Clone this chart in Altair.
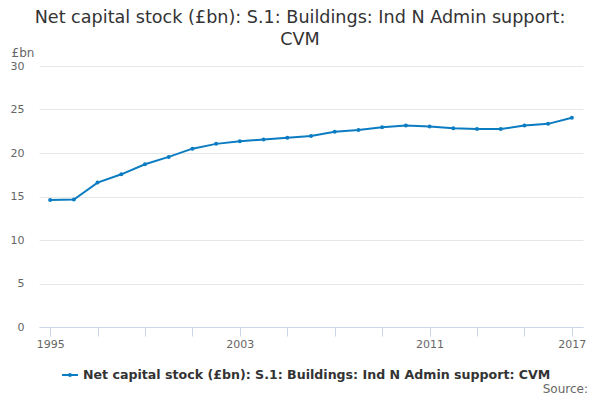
import altair as alt
import pandas as pd

years = list(range(1995, 2018))
values = [14.6, 14.65, 16.6, 17.55, 18.7, 19.55, 20.5, 21.05, 21.35, 21.55, 21.75,
          21.95, 22.45, 22.65, 22.95, 23.15, 23.05, 22.85, 22.75, 22.75, 23.15, 23.35, 24.05]
series_name = "Net capital stock (£bn): S.1: Buildings: Ind N Admin support: CVM"
title_lines = ["Net capital stock (£bn): S.1: Buildings: Ind N Admin support:", "CVM"]
x_ticks = list(range(1995, 2018, 2))
x_labels = [1995, 2003, 2011, 2017]
y_ticks = [0, 5, 10, 15, 20, 25, 30]

df = pd.DataFrame({"year": years, "value": values, "series": [series_name] * len(years)})

FONT = "DejaVu Sans"
COLOR = "#0b7cc1"

legend_path = ("M-1,-0.125H1V0.125H-1Z "
               "M-0.25,0A0.25,0.25,0,1,1,0.25,0A0.25,0.25,0,1,1,-0.25,0Z")

label_expr = "indexof([" + ",".join(str(v) for v in x_labels) + "], datum.value) >= 0 ? datum.value : ''"

line = alt.Chart(df).mark_line(
    strokeWidth=2,
    point=alt.OverlayMarkDef(size=16, filled=True, opacity=1),
).encode(
    x=alt.X("year:Q",
            scale=alt.Scale(domain=[1994.53, 2017.47], nice=False, zero=False),
            axis=alt.Axis(values=x_ticks, labelExpr=label_expr, format="d", title=None,
                          grid=False, domainColor="#ccd6eb", tickColor="#ccd6eb",
                          tickSize=9, labelPadding=2, labelColor="#666666",
                          labelFontSize=11, labelFont=FONT, labelFlush=False)),
    y=alt.Y("value:Q",
            scale=alt.Scale(domain=[0, 30], nice=False),
            axis=alt.Axis(values=y_ticks, title="£bn", titleAngle=0, titleX=-28, titleY=-10,
                          titleAlign="left", titleBaseline="alphabetic",
                          titleFontWeight="normal", titleColor="#666666", titleFontSize=12,
                          titleFont=FONT, domain=False, ticks=False, labelPadding=15,
                          labelColor="#666666", labelFontSize=11, labelFont=FONT,
                          gridColor="#e6e6e6")),
    color=alt.Color("series:N",
                    scale=alt.Scale(range=[COLOR]),
                    legend=alt.Legend(title=None, orient="none", legendX=23, legendY=301,
                                      symbolType=legend_path, symbolSize=256,
                                      symbolStrokeWidth=0, symbolFillColor=COLOR,
                                      labelFont=FONT, labelFontSize=12.6,
                                      labelFontWeight="bold", labelColor="#333333",
                                      labelOffset=5, padding=0, labelLimit=600)),
)

source = alt.Chart(pd.DataFrame({"t": ["Source:"]})).mark_text(
    align="right", baseline="middle", font=FONT, fontSize=12, color="#666666"
).encode(x=alt.value(549), y=alt.value(323), text="t:N")

chart = alt.layer(line, source).properties(
    width=544,
    height=261,
    autosize=alt.AutoSizeParams(type="none"),
    padding={"left": 31, "top": 58, "right": 9, "bottom": 68},
    title=alt.TitleParams(text=title_lines, anchor="middle", dx=-11, fontSize=17.6,
                          font=FONT, fontWeight="normal", color="#333333",
                          lineHeight=22, offset=-3),
).configure_view(stroke=None)

chart.save("out.html", embed_options={"renderer": "svg", "actions": False})
